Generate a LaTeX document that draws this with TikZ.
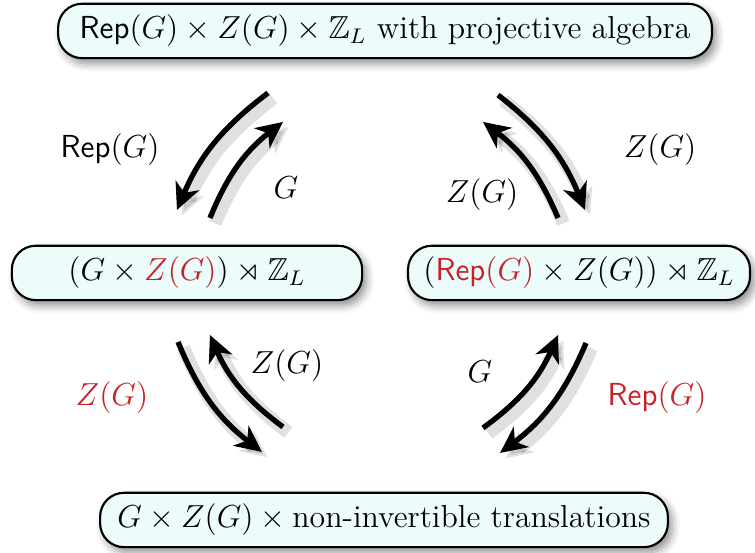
\documentclass[tikz,border=0pt]{standalone}
\usepackage{amssymb}
\usetikzlibrary{arrows.meta,shadows.blur}
\definecolor{boxfill}{RGB}{236,252,250}
\definecolor{labred}{RGB}{200,32,38}
\newcommand{\Rp}{\mathsf{Rep}}
\begin{document}
\begin{tikzpicture}[every node/.style={font=\large},
  b/.style={draw, thick, rounded corners=9pt, fill=boxfill, minimum height=0.72cm, inner sep=3pt, align=center,
    blur shadow={shadow xshift=1.5pt, shadow yshift=-2pt, shadow blur radius=3pt, shadow opacity=45}},
  ar/.style={line width=2pt, -{Stealth[length=10pt, width=9.5pt, inset=3pt]},
    preaction={draw, black, opacity=0.12, line width=5pt, transform canvas={xshift=2pt, yshift=-2pt}}}]
\useasboundingbox (0,0) rectangle (10,7.324);
\node[b, minimum width=8.66cm] (top) at (5.10,6.914) {$\Rp(G)\times Z(G)\times\mathbb{Z}_L$ with projective algebra};
\node[b, minimum width=4.64cm] (lft) at (2.477,3.709) {$(G\times {\color{labred}Z(G)})\rtimes\mathbb{Z}_L$};
\node[b, minimum width=4.53cm] (rgt) at (7.669,3.709) {$({\color{labred}\Rp(G)}\times Z(G))\rtimes\mathbb{Z}_L$};
\node[b, minimum width=7.52cm] (bot) at (5.086,0.437) {$G\times Z(G)\times{}$non-invertible translations};
% arrow ends
\coordinate (ul1) at (3.550,6.093); \coordinate (ul2) at (2.344,4.543);
\coordinate (ul3) at (2.781,4.437); \coordinate (ul4) at (3.748,5.709);
\coordinate (ur1) at (6.596,6.066); \coordinate (ur2) at (7.748,4.543);
\coordinate (ur3) at (7.391,4.437); \coordinate (ur4) at (6.397,5.709);
\coordinate (ll1) at (2.358,2.795); \coordinate (ll2) at (3.470,1.338);
\coordinate (ll3) at (3.748,1.669); \coordinate (ll4) at (2.781,2.887);
\coordinate (lr1) at (6.397,1.656); \coordinate (lr2) at (7.391,2.887);
\coordinate (lr3) at (7.762,2.781); \coordinate (lr4) at (6.623,1.325);
\draw[ar] (ul1) to[bend right=15] (ul2);
\draw[ar] (ul3) to[bend left=15] (ul4);
\draw[ar] (ur1) to[bend left=15] (ur2);
\draw[ar] (ur3) to[bend right=15] (ur4);
\draw[ar] (ll1) to[bend right=15] (ll2);
\draw[ar] (ll3) to[bend left=15] (ll4);
\draw[ar] (lr1) to[bend right=15] (lr2);
\draw[ar] (lr3) to[bend left=15] (lr4);
% labels
\node (lul) at (1.457,5.338) {$\Rp(G)$};
\node (lg1) at (3.788,4.834) {$G$};
\node (lur) at (8.742,5.338) {$Z(G)$};
\node (lz1) at (6.384,4.742) {$Z(G)$};
\node[text=labred] (lll) at (1.483,2.053) {$Z(G)$};
\node (lz2) at (3.801,2.477) {$Z(G)$};
\node (lg2) at (6.358,2.397) {$G$};
\node[text=labred] (llr) at (8.702,2.053) {$\Rp(G)$};
\end{tikzpicture}
\end{document}
